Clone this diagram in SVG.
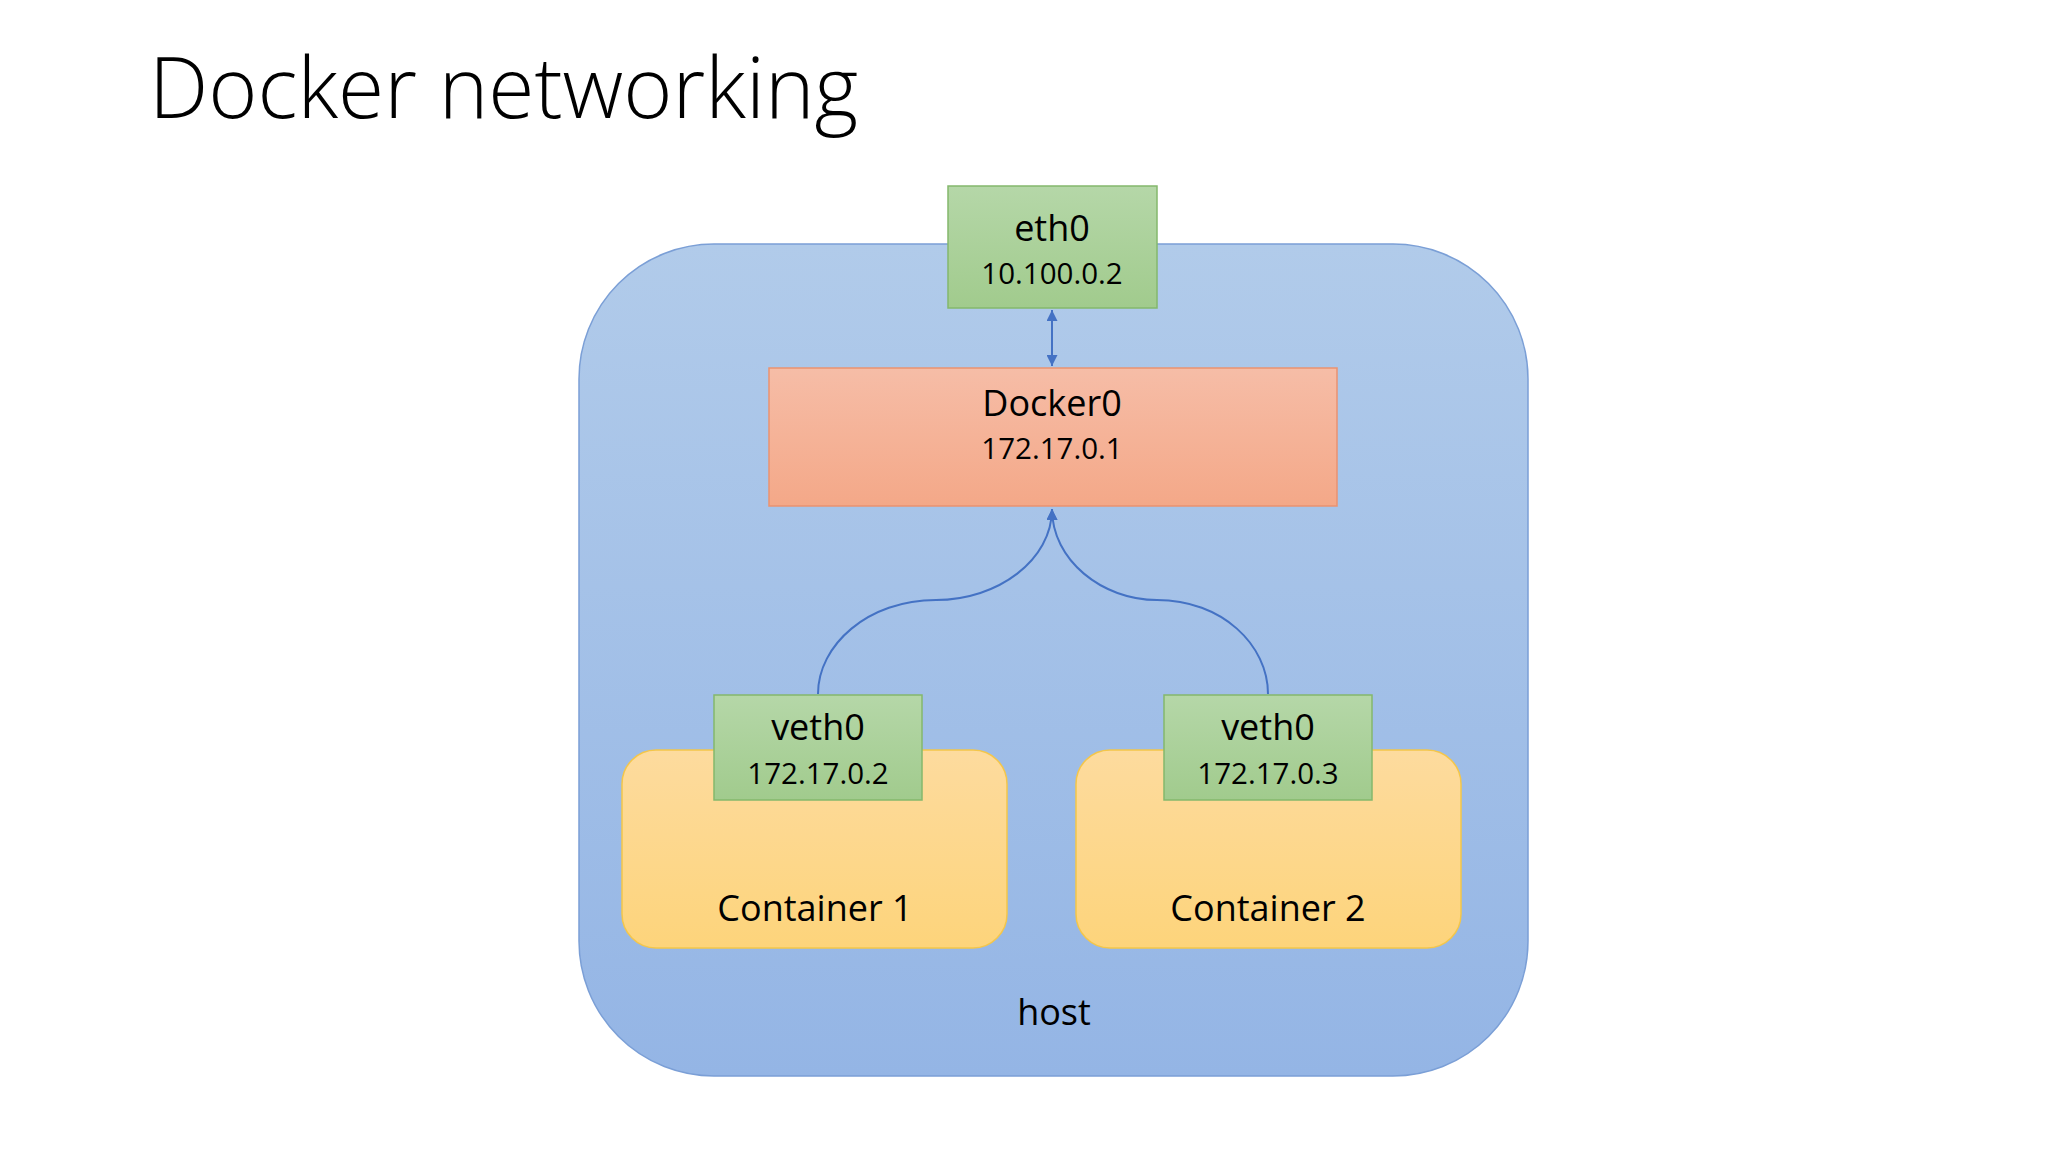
<svg xmlns="http://www.w3.org/2000/svg" width="2048" height="1152" viewBox="0 0 2048 1152">
<defs>
<linearGradient id="gHost" x1="0" y1="0" x2="0" y2="1"><stop offset="0" stop-color="#b1cbea"/><stop offset="1" stop-color="#94b5e5"/></linearGradient>
<linearGradient id="gGreen" x1="0" y1="0" x2="0" y2="1"><stop offset="0" stop-color="#b5d7a8"/><stop offset="1" stop-color="#a1cb8d"/></linearGradient>
<linearGradient id="gRed" x1="0" y1="0" x2="0" y2="1"><stop offset="0" stop-color="#f6bda7"/><stop offset="1" stop-color="#f4a888"/></linearGradient>
<linearGradient id="gYellow" x1="0" y1="0" x2="0" y2="1"><stop offset="0" stop-color="#fddb9e"/><stop offset="1" stop-color="#fdd47b"/></linearGradient>
<marker id="arr" viewBox="0 0 10 10" refX="10" refY="5" markerWidth="5.5" markerHeight="5.5" orient="auto-start-reverse" markerUnits="strokeWidth"><path d="M0,0 L10,5 L0,10 z" fill="#4472c4"/></marker>
</defs>
<style>
text{font-family:"Open Sans","Noto Sans","Liberation Sans",sans-serif;fill:#000;text-anchor:middle}
.title{font-size:84px;font-weight:300;text-anchor:start}
.big{font-size:36px}
.small{font-size:29.5px}
.green{fill:url(#gGreen);stroke:#84b86c;stroke-width:1.5}
.conn{fill:none;stroke:#4472c4;stroke-width:2}
</style>
<rect width="2048" height="1152" fill="#fff"/>
<text class="title" x="149" y="118">Docker networking</text>
<g id="host">
<rect x="579" y="244" width="949" height="832" rx="135" ry="135" fill="url(#gHost)" stroke="#7b9fd6" stroke-width="1.5"/>
<text class="big" x="1054" y="1025">host</text>
</g>
<g id="container1">
<rect x="622" y="750" width="385" height="198" rx="34" ry="34" fill="url(#gYellow)" stroke="#f4c64a" stroke-width="1.5"/>
<text class="big" x="815" y="921">Container 1</text>
</g>
<g id="container2">
<rect x="1076" y="750" width="385" height="198" rx="34" ry="34" fill="url(#gYellow)" stroke="#f4c64a" stroke-width="1.5"/>
<text class="big" x="1268" y="921">Container 2</text>
</g>
<g id="eth0">
<rect class="green" x="948" y="186" width="209" height="122"/>
<text class="big" x="1052" y="241">eth0</text>
<text class="small" x="1052" y="284">10.100.0.2</text>
</g>
<g id="docker0">
<rect x="769" y="368" width="568" height="138" fill="url(#gRed)" stroke="#ea9270" stroke-width="1.5"/>
<text class="big" x="1052" y="416">Docker0</text>
<text class="small" x="1052" y="459">172.17.0.1</text>
</g>
<g id="veth0-1">
<rect class="green" x="714" y="695" width="208" height="105"/>
<text class="big" x="818" y="740">veth0</text>
<text class="small" x="818" y="784">172.17.0.2</text>
</g>
<g id="veth0-2">
<rect class="green" x="1164" y="695" width="208" height="105"/>
<text class="big" x="1268" y="740">veth0</text>
<text class="small" x="1268" y="784">172.17.0.3</text>
</g>
<g id="connectors">
<path class="conn" d="M1052,310 L1052,366" marker-start="url(#arr)" marker-end="url(#arr)"/>
<path class="conn" d="M818,694 C818,645 868,600 936,600 C998,600 1052,560 1052,509" marker-end="url(#arr)"/>
<path class="conn" d="M1268,694 C1268,645 1222,600 1157,600 C1102,600 1052,560 1052,509" marker-end="url(#arr)"/>
</g>
</svg>
